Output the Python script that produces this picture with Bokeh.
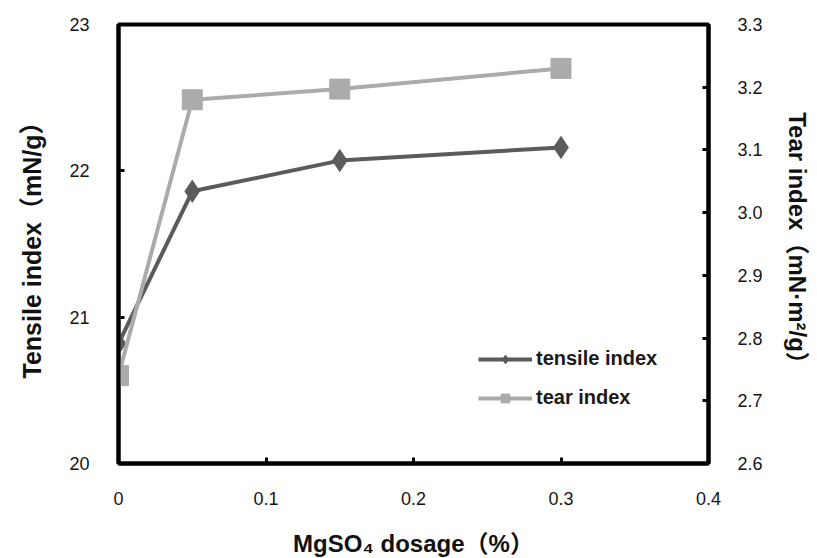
from bokeh.plotting import figure
from bokeh.models import Range1d, LinearAxis, FixedTicker, Legend, LegendItem
from bokeh.embed import file_html
from bokeh.resources import INLINE

dosage = [0, 0.05, 0.15, 0.3]
tensile = [20.82, 21.86, 22.07, 22.16]
tear = [2.74, 3.18, 3.197, 3.23]

x_ticks = [0, 0.1, 0.2, 0.3, 0.4]
x_labels = {0: "0", 0.1: "0.1", 0.2: "0.2", 0.3: "0.3", 0.4: "0.4"}
left_ticks = [20, 21, 22, 23]
right_ticks = [2.6, 2.7, 2.8, 2.9, 3.0, 3.1, 3.2, 3.3]
right_labels = {t: f"{t:.1f}" for t in right_ticks}

FONT = "Liberation Sans, Arial, Noto Sans CJK SC, sans-serif"

p = figure(width=817, height=558, output_backend="svg", toolbar_location=None,
           x_range=Range1d(0, 0.4), y_range=Range1d(20, 23),
           min_border_left=118, min_border_right=109, min_border_top=24, min_border_bottom=95)
p.frame_width = 590
p.frame_height = 439
p.extra_y_ranges = {"tear": Range1d(2.6, 3.3)}

p.xgrid.visible = False
p.ygrid.visible = False
p.outline_line_color = "black"
p.outline_line_width = 4
p.background_fill_color = "white"
p.border_fill_color = "white"

right = LinearAxis(y_range_name="tear")
p.add_layout(right, "right")

for ax in [p.xaxis[0], p.yaxis[0], right]:
    ax.axis_line_color = "black"
    ax.axis_line_width = 4
    ax.major_tick_in = 6
    ax.major_tick_out = 0
    ax.major_tick_line_width = 3
    ax.minor_tick_line_color = None
    ax.major_label_text_font = FONT
    ax.major_label_text_font_size = "18px"
    ax.major_label_text_color = "#151515"
    ax.axis_label_text_font = FONT
    ax.axis_label_text_font_style = "bold"
    ax.axis_label_text_font_size = "25px"
    ax.axis_label_text_color = "#111111"

p.xaxis[0].ticker = FixedTicker(ticks=x_ticks)
p.xaxis[0].major_label_overrides = x_labels
p.xaxis[0].major_label_standoff = 28
p.xaxis[0].axis_label = "MgSO\u2084 dosage\uff08%\uff09"
p.xaxis[0].axis_label_text_font_size = "24px"
p.xaxis[0].axis_label_standoff = 22

p.yaxis[0].ticker = FixedTicker(ticks=left_ticks)
p.yaxis[0].major_label_standoff = 29
p.yaxis[0].axis_label = "Tensile index\uff08mN/g\uff09"
p.yaxis[0].axis_label_standoff = 20

right.ticker = FixedTicker(ticks=right_ticks)
right.major_label_overrides = right_labels
right.major_label_standoff = 29
right.axis_label = "Tear index\uff08mN\u00b7m\u00b2/g\uff09"
right.axis_label_text_font_size = "24px"
right.axis_label_standoff = 18

dark = "#5b5b5b"
light = "#ababab"

l1 = p.line(dosage, tensile, line_color=dark, line_width=4)
s1 = p.scatter(dosage, tensile, marker="diamond", size=22, fill_color=dark, line_color=dark)
l2 = p.line(dosage, tear, line_color=light, line_width=4, y_range_name="tear")
s2 = p.scatter(dosage, tear, marker="square", size=20, fill_color=light, line_color=light,
               y_range_name="tear")

legend = Legend(items=[LegendItem(label="tensile index", renderers=[l1, s1]),
                       LegendItem(label="tear index", renderers=[l2, s2])],
                location=(360, 54), orientation="vertical")
legend.background_fill_alpha = 0
legend.border_line_color = None
legend.label_text_font = FONT
legend.label_text_font_size = "20px"
legend.label_text_font_style = "bold"
legend.label_text_color = "#1a1a1a"
legend.glyph_width = 54
legend.glyph_height = 22
legend.spacing = 16
legend.label_standoff = 4
legend.padding = 0
p.add_layout(legend)

open("out.html", "w").write(file_html(p, INLINE))
